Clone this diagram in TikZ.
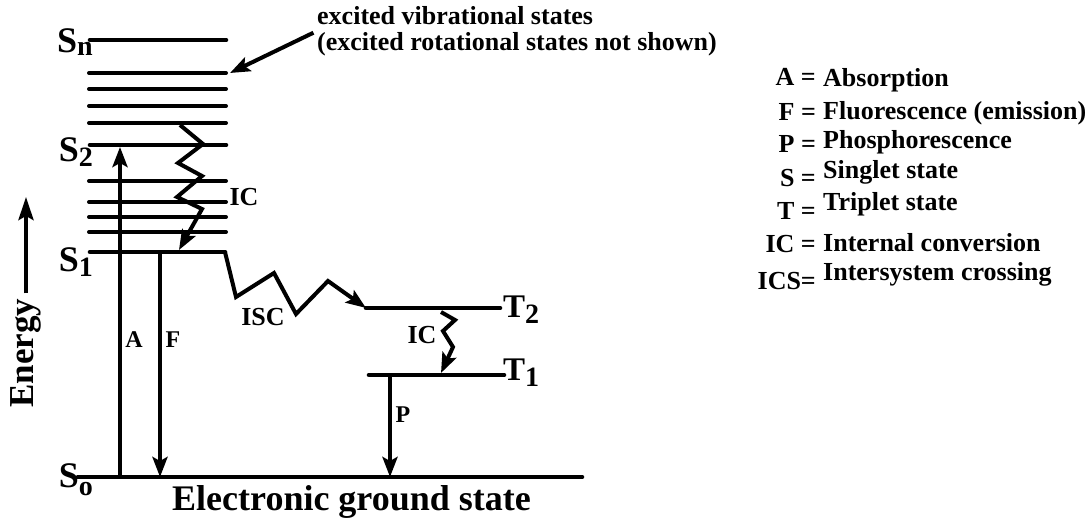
\documentclass[tikz,border=0pt]{standalone}
\usepackage{fontspec}
\setmainfont{Liberation Serif}
\usetikzlibrary{arrows.meta}
\newcommand{\lvlname}[3]{#1\raisebox{-#3}{\fontsize{28}{28}\selectfont #2}}

\begin{document}
\begin{tikzpicture}[x=1pt, y=-1pt, >={Stealth[length=20pt, width=15pt, inset=4pt]}]
    \tikzset{
      lvl/.style={line width=4.6pt, line cap=round},
      vib/.style={line width=4pt, line cap=round},
      arr/.style={->, line width=4pt},
      wig/.style={->, line width=4pt, line join=miter},
      lbl/.style={font=\bfseries\fontsize{24}{24}\selectfont, inner sep=0pt},
      wlbl/.style={font=\bfseries\fontsize{26}{26}\selectfont, inner sep=0pt},
      state/.style={font=\bfseries\fontsize{36}{36}\selectfont, inner sep=0pt},
      tstate/.style={font=\bfseries\fontsize{33}{33}\selectfont, inner sep=0pt},
      key/.style={font=\bfseries\fontsize{26}{26}\selectfont, inner sep=0pt}
    }
    \useasboundingbox (0,0) rectangle (1091,518);

    % levels
    \coordinate (Snw) at (90,40);   \coordinate (Sne) at (226,40);
    \coordinate (S2w) at (90,145);  \coordinate (S2e) at (226,145);
    \coordinate (S1w) at (90,252);  \coordinate (S1e) at (225,252);
    \coordinate (S0w) at (78,477);  \coordinate (S0e) at (582,477);
    \coordinate (T2w) at (366,308); \coordinate (T2e) at (500,308);
    \coordinate (T1w) at (369,375); \coordinate (T1e) at (504,375);
    \foreach \lv in {Sn,S2,S1,S0,T2,T1}
      \draw[lvl] (\lv w) -- (\lv e);
    \foreach \y in {73,89,106,123,181,202,217,232}
      \draw[vib] (89,\y) -- (226,\y);

    \node[state, anchor=base east] (Sn) at (93,53) {\lvlname{S}{n}{3pt}};
    \node[state, anchor=base east] (S2) at (93,162) {\lvlname{S}{2}{5pt}};
    \node[state, anchor=base east] (S1) at (93,272) {\lvlname{S}{1}{5pt}};
    \node[state, anchor=base east] (S0) at (93,487) {\lvlname{S}{o}{8pt}};
    \node[tstate, anchor=base west] (T2) at (503,317) {\lvlname{T}{2}{6pt}};
    \node[tstate, anchor=base west] (T1) at (503,380) {\lvlname{T}{1}{6pt}};

    % radiative transitions
    \coordinate (Abot) at (120,477); \coordinate (Atop) at (120,147);
    \coordinate (Ftop) at (160,252); \coordinate (Fbot) at (160,477);
    \coordinate (Ptop) at (390,375); \coordinate (Pbot) at (390,477);
    \draw[arr] (Abot) -- (Atop);
    \draw[arr] (Ftop) -- (Fbot);
    \draw[arr] (Ptop) -- (Pbot);
    \node[lbl] (A) at (134,340) {A};
    \node[lbl] (F) at (173,340) {F};
    \node[lbl] (P) at (403,415) {P};

    % non-radiative transitions
    \coordinate (ic1s) at (180,125); \coordinate (ic1e) at (179,250);
    \coordinate (ic2s) at (441,312); \coordinate (ic2e) at (441,373);
    \draw[wig] (ic1s) -- (203,144) -- (178,163) -- (202,176) -- (177,197) -- (202,209) -- (ic1e);
    \draw[wig] (S1e) -- (236,297) -- (274,273) -- (296,314) -- (328,281) -- (T2w);
    \draw[wig] (ic2s) -- (455,320) -- (443,331) -- (453,347) -- (ic2e);
    \node[wlbl] (IC1) at (244,197) {IC};
    \node[wlbl] (ISC) at (263,317) {ISC};
    \node[wlbl] (IC2) at (422,335) {IC};

    % axis and captions
    \node[rotate=90, inner sep=0pt, font=\bfseries\fontsize{35}{35}\selectfont] (energy) at (26,353) {Energy};
    \coordinate (etip) at (26,197);
    \draw[arr, -{Stealth[length=23pt, width=15pt, inset=4pt]}] ([yshift=5pt]energy.east) -- (energy.east |- etip);
    \node[state, anchor=base west] (ground) at (172,510) {Electronic ground state};

    \node[key, anchor=north west, align=left] (note) at (317,6)
      {excited vibrational states\\(excited rotational states not shown)};
    \coordinate (vibtop) at (230,73);
    \draw[arr, shorten <=4pt] (note.west) -- (vibtop);

    % legend
    \foreach \sym/\txt/\ys/\yt in {A =/Absorption/86/87, F =/Fluorescence (emission)/121/120,
        P =/Phosphorescence/153/149, S =/Singlet state/187/179, T =/Triplet state/220/211,
        IC =/Internal conversion/253/252, ICS=/Intersystem crossing/290/281}
      {\node[key, anchor=base east] (k\yt) at (816,\ys) {\sym};
       \node[key, anchor=base west] (d\yt) at (823,\yt) {\txt};}
\end{tikzpicture}
\end{document}
